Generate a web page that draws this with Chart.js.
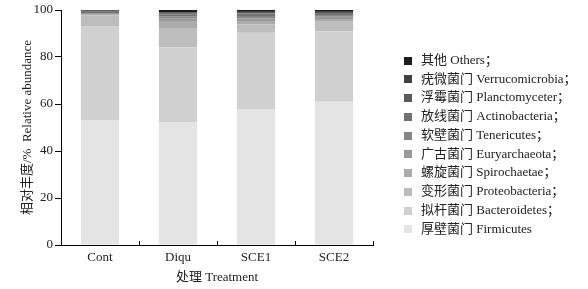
<!DOCTYPE html>
<html>
<head>
<meta charset="utf-8">
<script src="https://cdn.jsdelivr.net/npm/chart.js@4/dist/chart.umd.min.js"></script>
<style>
html,body{margin:0;padding:0;background:#fff;}
#wrap{width:588px;height:289px;position:relative;}
</style>
</head>
<body>
<div id="wrap"><canvas id="c" width="588" height="289"></canvas></div>
<script>
const categories = ["Cont", "Diqu", "SCE1", "SCE2"];
const yTicks = [0, 20, 40, 60, 80, 100];
// bottom to top
const seriesNames = [
  "厚壁菌门 Firmicutes",
  "拟杆菌门 Bacteroidetes；",
  "变形菌门 Proteobacteria；",
  "螺旋菌门 Spirochaetae；",
  "广古菌门 Euryarchaeota；",
  "软壁菌门 Tenericutes；",
  "放线菌门 Actinobacteria；",
  "浮霉菌门 Planctomyceter；",
  "疣微菌门 Verrucomicrobia；",
  "其他 Others；"
];
const firmicutes      = [53.2, 52.3, 57.9, 61.0];
const bacteroidetes   = [40.0, 31.7, 32.4, 29.8];
const proteobacteria  = [4.5, 8.3, 3.5, 4.2];
const spirochaetae    = [0.3, 3.0, 1.5, 1.2];
const euryarchaeota   = [0.3, 1.2, 1.2, 0.9];
const tenericutes     = [0.3, 0.8, 1.0, 0.8];
const actinobacteria  = [0.5, 0.9, 1.0, 0.8];
const planctomyceter  = [0.3, 0.4, 0.6, 0.5];
const verrucomicrobia = [0.5, 0.4, 0.5, 0.4];
const others          = [0.1, 1.0, 0.4, 0.4];
const seriesValues = [firmicutes, bacteroidetes, proteobacteria, spirochaetae, euryarchaeota,
  tenericutes, actinobacteria, planctomyceter, verrucomicrobia, others];
const seriesColors = ["#e4e4e4", "#d0d0d0", "#bdbdbd", "#ababab", "#999999",
  "#868686", "#727272", "#5a5a5a", "#404040", "#1c1c1c"];

const FONT = "'Liberation Serif', 'Noto Sans CJK SC', serif";

const innerTicks = {
  id: 'innerTicks',
  afterDraw(chart) {
    const ctx = chart.ctx, x = chart.scales.x, y0 = chart.chartArea.bottom;
    ctx.save();
    ctx.strokeStyle = '#000';
    ctx.lineWidth = 1;
    for (let i = 0; i <= categories.length; i++) {
      const px = Math.round(x.getPixelForValue(i - 0.5)) + 0.5;
      ctx.beginPath();
      ctx.moveTo(px, y0);
      ctx.lineTo(px, y0 - 4);
      ctx.stroke();
    }
    ctx.restore();
  }
};

const legendPlugin = {
  id: 'customLegend',
  afterDraw(chart) {
    const ctx = chart.ctx;
    const ds = chart.data.datasets;
    ctx.save();
    ctx.font = "13px " + FONT;
    ctx.textBaseline = 'middle';
    ctx.fillStyle = '#222';
    const n = ds.length;
    for (let k = 0; k < n; k++) {
      const d = ds[n - 1 - k];
      const yy = 60.5 + k * 18.75;
      ctx.fillStyle = d.backgroundColor;
      ctx.fillRect(404, Math.round(yy - 4), 8, 8);
      ctx.fillStyle = '#222';
      ctx.fillText(d.label, 421, yy);
    }
    ctx.restore();
  }
};

new Chart(document.getElementById('c'), {
  type: 'bar',
  data: {
    labels: categories,
    datasets: seriesNames.map((name, i) => ({
      label: name,
      data: seriesValues[i],
      backgroundColor: seriesColors[i],
      borderWidth: 0,
      categoryPercentage: 1,
      barPercentage: 0.49
    }))
  },
  options: {
    responsive: false,
    animation: false,
    devicePixelRatio: 1,
    layout: { padding: { left: 0, top: 10, right: 215, bottom: 0 } },
    plugins: { legend: { display: false }, tooltip: { enabled: false } },
    scales: {
      x: {
        stacked: true,
        afterFit(s) { s.height = 44; },
        grid: { display: true, drawOnChartArea: false, drawTicks: false, offset: true },
        border: { color: '#000', width: 1 },
        ticks: { color: '#222', font: { family: FONT, size: 13 }, padding: 5 },
        title: { display: true, text: '处理 Treatment', color: '#222',
          font: { family: FONT, size: 13 }, padding: { top: 0, bottom: 4 } }
      },
      y: {
        stacked: true,
        min: 0, max: 100,
        afterFit(s) { s.width = 61; },
        afterBuildTicks(s) { s.ticks = yTicks.map(v => ({ value: v })); },
        grid: { display: true, drawOnChartArea: false, drawTicks: true, tickLength: 6, color: '#000' },
        border: { color: '#000', width: 1 },
        ticks: { color: '#222', font: { family: FONT, size: 13 }, padding: 2 },
        title: { display: true, text: '相对丰度/%  Relative abundance', color: '#222',
          font: { family: FONT, size: 13 }, padding: { top: 20, bottom: 0 } }
      }
    }
  },
  plugins: [innerTicks, legendPlugin]
});
</script>
</body>
</html>
